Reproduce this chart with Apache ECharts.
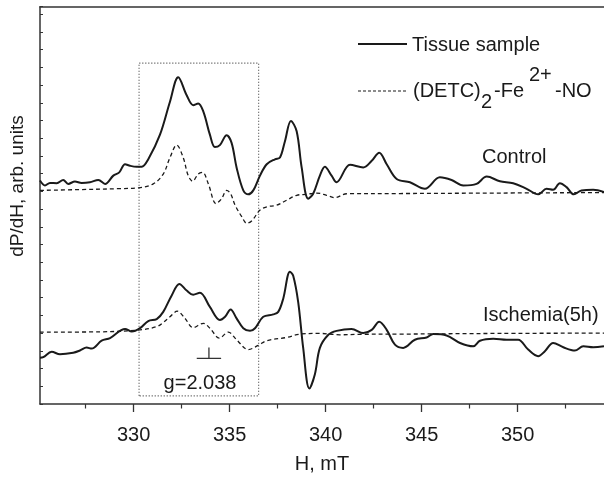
<!DOCTYPE html>
<html><head><meta charset="utf-8">
<script src="https://cdn.jsdelivr.net/npm/echarts@6/dist/echarts.min.js"></script>
<style>html,body{margin:0;padding:0;background:#fff}#c{width:604px;height:479px}</style>
</head><body><div id="c"></div><script>
// x: magnetic field H, mT ; y: dP/dH in arbitrary units (vertical offsets of traces)
const xMajorTicks = [330, 335, 340, 345, 350];
const xMinorTicks = [327.5, 332.5, 337.5, 342.5, 347.5, 352.5];

const controlTissueH = [325.12,325.38,325.64,325.99,326.33,326.59,326.94,327.29,327.72,328.16,328.51,328.94,329.25,329.55,329.81,330.16,330.42,330.76,331.37,331.89,332.32,332.76,333.10,333.36,333.63,333.97,334.23,334.49,334.84,335.10,335.36,335.71,335.97,336.23,336.58,336.93,337.36,337.62,337.88,338.19,338.49,338.75,339.09,339.35,339.70,339.96,340.31,340.57,341.27,341.96,342.40,342.79,343.18,343.70,344.39,345.17,345.95,346.56,347.17,347.86,348.39,349.08,349.77,350.47,351.07,351.51,351.85,352.20,352.55,352.93,353.33,353.94,354.50];
const controlTissueY = [227.0,222.0,224.6,224.3,227.6,223.6,226.0,224.6,225.3,227.6,223.6,232.0,235.3,243.6,242.0,241.0,241.0,248.6,273.6,307.0,332.0,313.6,303.6,305.3,297.0,273.6,261.0,263.0,273.0,265.3,240.3,217.0,213.0,217.0,232.0,243.6,248.6,250.3,267.0,287.6,277.0,240.3,208.6,213.6,232.0,241.0,232.0,225.3,243.0,240.3,247.0,255.3,243.6,228.6,225.3,218.6,230.3,227.6,222.0,223.6,231.0,226.3,224.3,218.6,213.0,218.6,217.6,224.3,220.3,213.0,217.0,217.6,215.3];

const controlDetcH = [325.12,327.20,329.29,330.24,331.02,331.54,331.89,332.24,332.58,332.84,333.07,333.36,333.59,333.89,334.29,334.58,334.84,335.05,335.28,335.63,335.89,336.16,336.58,336.93,337.45,337.97,338.49,339.01,339.53,340.05,340.48,341.09,343.87,349.08,354.50];
const controlDetcY = [217.0,217.8,218.8,219.6,223.6,233.6,250.3,263.0,250.3,232.0,226.3,233.6,235.3,223.6,203.6,208.6,217.0,213.6,202.0,190.3,183.6,186.3,197.0,200.3,202.0,207.0,212.0,213.0,214.3,212.0,209.6,213.6,213.8,214.3,214.8];

const ischemiaTissueH = [325.12,325.29,325.73,326.16,326.85,327.20,327.55,327.81,328.33,328.77,329.55,329.90,330.33,330.76,331.20,331.54,331.98,332.38,332.76,333.10,333.45,333.97,334.49,334.76,335.05,335.36,335.71,336.06,336.32,336.75,337.27,337.53,337.79,338.14,338.31,338.57,338.83,339.15,339.44,339.70,340.14,340.57,341.35,341.96,342.40,342.79,343.18,343.61,344.04,344.65,345.26,345.60,346.30,347.00,347.69,348.04,348.73,349.43,350.03,350.55,351.07,351.42,351.85,352.38,352.98,353.42,353.94,354.50];
const ischemiaTissueY = [47.0,47.6,53.0,50.5,52.0,54.3,57.3,56.3,64.3,67.0,76.3,73.6,77.0,84.3,86.3,93.6,110.3,122.0,115.3,111.0,113.0,98.6,85.3,88.6,96.0,87.0,77.0,74.3,77.0,88.6,91.0,93.6,107.0,134.3,130.3,103.6,57.0,15.8,30.3,57.0,70.3,74.3,76.3,72.0,75.3,83.6,75.3,60.3,57.0,65.3,67.6,71.0,69.6,62.0,58.6,64.3,66.3,65.3,65.3,55.3,48.6,53.6,62.0,57.6,54.3,58.6,57.6,58.6];

const ischemiaDetcH = [325.12,328.24,330.33,331.20,331.54,331.89,332.27,332.67,333.10,333.63,333.97,334.46,334.93,335.36,335.97,336.49,336.93,337.97,338.66,339.70,340.74,341.79,343.87,349.08,354.50];
const ischemiaDetcY = [73.0,73.3,75.3,78.6,82.8,88.6,94.3,87.0,77.6,82.0,77.0,67.0,73.0,65.3,55.3,59.6,64.3,67.6,71.0,71.7,70.3,70.8,71.0,71.7,72.0];

// dotted region box and g-value marker
const boxH = [330.28, 336.51];
const boxY = [8.3, 346.3];
const gMarkH = 333.92;
const gMarkHalfWidthH = 0.635;
const gMarkY = [46.3, 57.3];

const X_MIN = 325.12, X_MAX = 354.5, Y_MIN = 0, Y_MAX = 403.6, Y_INT = 18;

function pairs(xs, ys) { return xs.map((x, i) => [x, ys[i]]); }

const FONT = 'Liberation Sans, Arial, Helvetica, sans-serif';
const INK = '#1a1a1a';

const chart = echarts.init(document.getElementById('c'), null, { renderer: 'canvas' });

const boxData = [[boxH[0], boxY[0]], [boxH[0], boxY[1]], [boxH[1], boxY[1]], [boxH[1], boxY[0]], [boxH[0], boxY[0]]];
const gData = [[gMarkH, gMarkY[1]], [gMarkH, gMarkY[0]], [gMarkH - gMarkHalfWidthH, gMarkY[0]], [gMarkH + gMarkHalfWidthH, gMarkY[0]]];

chart.setOption({
  animation: false,
  backgroundColor: '#fff',
  grid: { left: 40, right: 0, top: 6.7, bottom: 68.7, containLabel: false },
  xAxis: [
    {
      type: 'value', min: X_MIN, max: X_MAX, position: 'bottom',
      axisLine: { show: true, lineStyle: { color: '#333', width: 1.5 } },
      axisTick: { show: true, customValues: xMajorTicks, length: 8, inside: false, lineStyle: { color: '#333', width: 1.3 } },
      axisLabel: { show: true, customValues: xMajorTicks, fontSize: 20, margin: 21, color: INK, fontFamily: FONT },
      splitLine: { show: false },
      name: 'H, mT', nameLocation: 'middle', nameGap: 50,
      nameTextStyle: { fontSize: 20, color: INK, fontFamily: FONT }
    },
    {
      type: 'value', min: X_MIN, max: X_MAX, position: 'bottom',
      axisLine: { show: false },
      axisTick: { show: true, customValues: xMinorTicks, length: 4.5, inside: false, lineStyle: { color: '#333', width: 1.2 } },
      axisLabel: { show: false }, splitLine: { show: false }
    },
    {
      type: 'value', min: X_MIN, max: X_MAX, position: 'top',
      axisLine: { show: true, lineStyle: { color: '#333', width: 1.5 } },
      axisTick: { show: false }, axisLabel: { show: false }, splitLine: { show: false }
    }
  ],
  yAxis: {
    type: 'value', min: Y_MIN, max: Y_MAX, interval: Y_INT,
    axisLine: { show: true, lineStyle: { color: '#333', width: 1.5 } },
    axisTick: { show: true, inside: true, length: 3, lineStyle: { color: '#333', width: 1 } },
    axisLabel: { show: false }, splitLine: { show: false }
  },
  series: [
    { type: 'line', name: 'box', data: boxData, showSymbol: false, silent: true, z: 1,
      lineStyle: { color: '#444', width: 1.1, type: [1, 2] } },
    { type: 'line', name: 'Control DETC', data: pairs(controlDetcH, controlDetcY), showSymbol: false, smooth: 0.35, z: 2,
      lineStyle: { color: INK, width: 1.3, type: [4, 3] } },
    { type: 'line', name: 'Ischemia DETC', data: pairs(ischemiaDetcH, ischemiaDetcY), showSymbol: false, smooth: 0.35, z: 2,
      lineStyle: { color: INK, width: 1.3, type: [4, 3] } },
    { type: 'line', name: 'Control tissue', data: pairs(controlTissueH, controlTissueY), showSymbol: false, smooth: 0.35, z: 3,
      lineStyle: { color: INK, width: 2 } },
    { type: 'line', name: 'Ischemia tissue', data: pairs(ischemiaTissueH, ischemiaTissueY), showSymbol: false, smooth: 0.35, z: 3,
      lineStyle: { color: INK, width: 2 } },
    { type: 'line', name: 'g marker', data: gData, showSymbol: false, silent: true, z: 3,
      lineStyle: { color: '#333', width: 1.3 } }
  ],
  graphic: [
    { type: 'line', shape: { x1: 358, y1: 44, x2: 407, y2: 44 }, style: { stroke: INK, lineWidth: 2 } },
    { type: 'text', x: 412, y: 45, style: { text: 'Tissue sample', font: '20px ' + FONT, fill: INK, verticalAlign: 'middle' } },
    { type: 'line', shape: { x1: 358, y1: 91, x2: 407, y2: 91 }, style: { stroke: INK, lineWidth: 1.1, lineDash: [3, 2] } },
    { type: 'text', x: 413, y: 91, style: { text: '(DETC)', font: '20px ' + FONT, fill: INK, verticalAlign: 'middle' } },
    { type: 'text', x: 481, y: 102, style: { text: '2', font: '20px ' + FONT, fill: INK, verticalAlign: 'middle' } },
    { type: 'text', x: 494, y: 91, style: { text: '-Fe', font: '20px ' + FONT, fill: INK, verticalAlign: 'middle' } },
    { type: 'text', x: 529, y: 75, style: { text: '2+', font: '20px ' + FONT, fill: INK, verticalAlign: 'middle' } },
    { type: 'text', x: 555, y: 91, style: { text: '-NO', font: '20px ' + FONT, fill: INK, verticalAlign: 'middle' } },
    { type: 'text', x: 482, y: 157, style: { text: 'Control', font: '20px ' + FONT, fill: INK, verticalAlign: 'middle' } },
    { type: 'text', x: 483, y: 315, style: { text: 'Ischemia(5h)', font: '20px ' + FONT, fill: INK, verticalAlign: 'middle' } },
    { type: 'text', x: 200, y: 383, style: { text: 'g=2.038', font: '20px ' + FONT, fill: INK, align: 'center', verticalAlign: 'middle' } },
    { type: 'text', x: 18, y: 186, rotation: Math.PI / 2, style: { text: 'dP/dH, arb. units', font: '19px ' + FONT, fill: INK, align: 'center', verticalAlign: 'middle' } }
  ]
});
</script></body></html>
